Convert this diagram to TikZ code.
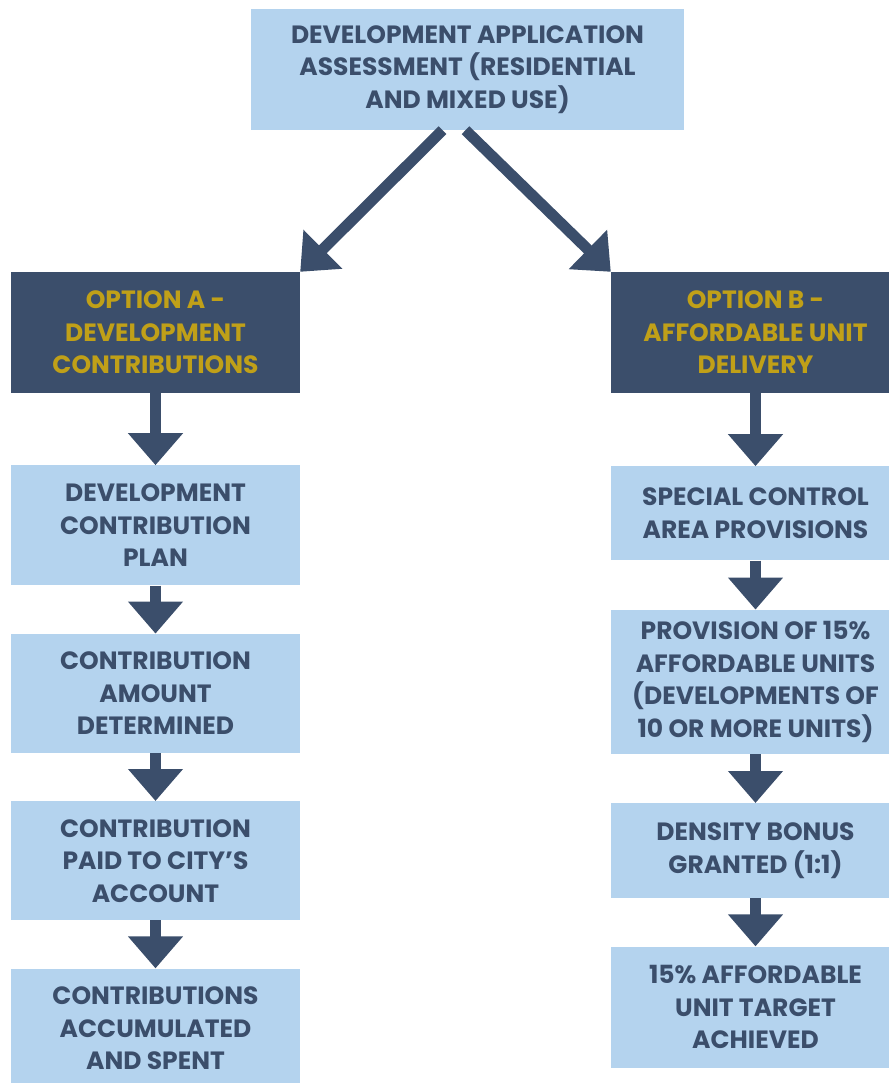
\documentclass[tikz,border=0pt]{standalone}
\usepackage{fontspec}
\setmainfont{Poppins}
\usepackage{tikz}
\usetikzlibrary{arrows.meta, positioning, calc}
\usepackage{xcolor}
\definecolor{cLight}{RGB}{180,211,238}
\definecolor{cNavy}{RGB}{59,78,107}
\definecolor{cGold}{RGB}{192,160,24}
\tikzset{
  basebox/.style={rectangle, inner sep=0pt, align=center,
                  minimum width=289pt,
                  font=\fontsize{25}{32.5}\selectfont\bfseries},
  stepnode/.style={basebox, fill=cLight, text=cNavy},
  optionnode/.style={basebox, fill=cNavy, text=cGold, minimum height=121pt},
  bigarrow/.style={-{Triangle[width=53pt,length=32pt]}, line width=11pt,
                   color=cNavy}
}

\begin{document}
\begin{tikzpicture}[x=1pt, y=1pt, node distance=48pt]

  \useasboundingbox (0,0) rectangle (888,-1083);

  % Header
  \node[stepnode, minimum width=433pt, minimum height=121pt] (assess) at (467.5,-69.5)
      {DEVELOPMENT APPLICATION\\ASSESSMENT (RESIDENTIAL\\AND MIXED USE)};

  % Two option columns
  \node[optionnode] (optA) at (155.5,-332.5)
      {OPTION A -\\DEVELOPMENT\\CONTRIBUTIONS};
  \node[optionnode] (optB) at (755.5,-332.5)
      {OPTION B -\\AFFORDABLE UNIT\\DELIVERY};

  \draw[bigarrow] ($(assess.south)+(-25,0)$) -- (optA.north east);
  \draw[bigarrow] ($(assess.south)+(-2,0)$) -- (optB.north west);

  % Option A steps
  \node[stepnode, minimum height=120pt, below=72pt of optA] (planA)
      {DEVELOPMENT\\CONTRIBUTION\\PLAN};
  \node[stepnode, minimum height=119pt, below=of planA] (amountA)
      {CONTRIBUTION\\AMOUNT\\DETERMINED};
  \node[stepnode, minimum height=119pt, below=of amountA] (paidA)
      {CONTRIBUTION\\PAID TO CITY’S\\ACCOUNT};
  \node[stepnode, minimum height=120pt, below=of paidA] (spentA)
      {CONTRIBUTIONS\\ACCUMULATED\\AND SPENT};

  % Option B steps
  \node[stepnode, minimum height=94pt, below=73pt of optB] (areaB)
      {SPECIAL CONTROL\\AREA PROVISIONS};
  \node[stepnode, minimum height=144pt, below=49pt of areaB] (unitsB)
      {PROVISION OF 15\%\\AFFORDABLE UNITS\\(DEVELOPMENTS OF\\10 OR MORE UNITS)};
  \node[stepnode, minimum height=95pt, below=49pt of unitsB] (bonusB)
      {DENSITY BONUS\\GRANTED (1:1)};
  \node[stepnode, minimum height=121pt, below=of bonusB] (targetB)
      {15\% AFFORDABLE\\UNIT TARGET\\ACHIEVED};

  \draw[bigarrow] (optA) -- (planA);
  \draw[bigarrow] (planA) -- (amountA);
  \draw[bigarrow] (amountA) -- (paidA);
  \draw[bigarrow] (paidA) -- (spentA);

  \draw[bigarrow] (optB) -- (areaB);
  \draw[bigarrow] (areaB) -- (unitsB);
  \draw[bigarrow] (unitsB) -- (bonusB);
  \draw[bigarrow] (bonusB) -- (targetB);

\end{tikzpicture}
\end{document}
